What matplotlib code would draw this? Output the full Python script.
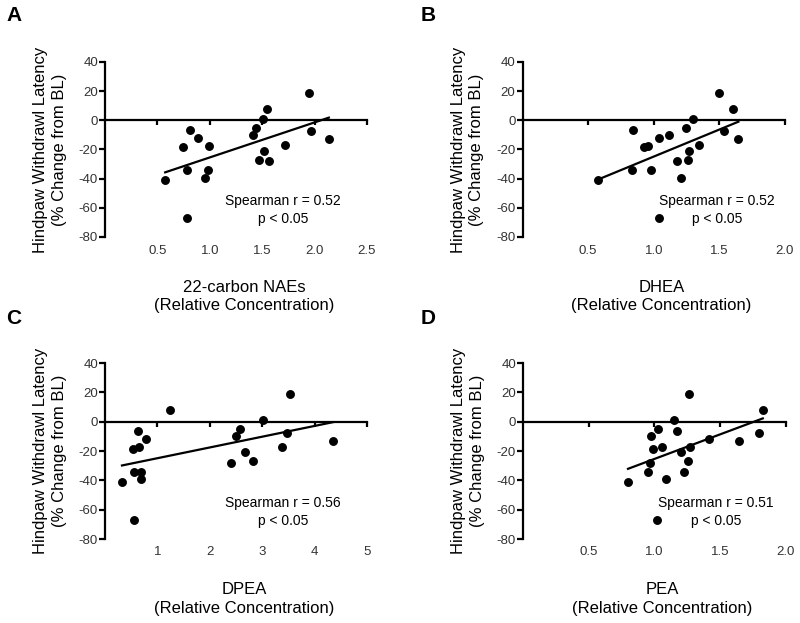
import numpy as np
import matplotlib
matplotlib.use("Agg")
import matplotlib.pyplot as plt

plt.rcParams['font.family'] = ['Liberation Sans', 'DejaVu Sans']
plt.rcParams['axes.unicode_minus'] = False

# Hindpaw withdrawal latency (% change from BL), same animals in all panels
latency = [19, 8, 1, -5, -10, -6.5, -12, -18.6, -17.5, -7.5,
           -13, -17, -21, -27, -28, -34.3, -34.3, -39.3, -41, -67]

x_nae22 = [1.946, 1.546, 1.508, 1.444, 1.413, 0.810, 0.883, 0.746, 0.994, 1.965,
           2.136, 1.717, 1.521, 1.470, 1.565, 0.778, 0.984, 0.955, 0.574, 0.778]
x_dhea = [1.500, 1.604, 1.299, 1.243, 1.118, 0.841, 1.042, 0.927, 0.953, 1.538,
          1.645, 1.342, 1.268, 1.261, 1.179, 0.836, 0.981, 1.205, 0.574, 1.042]
x_dpea = [3.53, 1.24, 3.02, 2.58, 2.50, 0.636, 0.776, 0.54, 0.643, 3.47,
          4.35, 3.38, 2.67, 2.82, 2.40, 0.56, 0.68, 0.68, 0.324, 0.56]
x_pea = [1.265, 1.827, 1.153, 1.031, 0.977, 1.173, 1.415, 0.990, 1.061, 1.796,
         1.649, 1.275, 1.201, 1.260, 0.969, 0.952, 1.224, 1.089, 0.800, 1.020]

panel_letters = ['A', 'B', 'C', 'D']
x_names = ['22-carbon NAEs', 'DHEA', 'DPEA', 'PEA']
x_series = [x_nae22, x_dhea, x_dpea, x_pea]
spearman_r = ['0.52', '0.52', '0.56', '0.51']
x_limits = [2.5, 2.0, 5.0, 2.0]
x_ticks = [[0.5, 1.0, 1.5, 2.0, 2.5], [0.5, 1.0, 1.5, 2.0],
           [1, 2, 3, 4, 5], [0.5, 1.0, 1.5, 2.0]]
x_ticklabels = [['0.5', '1.0', '1.5', '2.0', '2.5'], ['0.5', '1.0', '1.5', '2.0'],
                ['1', '2', '3', '4', '5'], ['0.5', '1.0', '1.5', '2.0']]
y_ticks = [40, 20, 0, -20, -40, -60, -80]

W, H = 800, 623
fig = plt.figure(figsize=(8.0, 6.23), dpi=100)

# axes boxes in pixels: left, right, top, bottom
boxes = [(105, 367, 62, 237), (522.5, 785, 62, 237),
         (105, 367, 363, 539), (523, 785.5, 363, 539)]
letter_pos = [(6, 6), (421, 6), (6, 309), (421, 309)]
stat_x = [0.68, 0.74, 0.68, 0.736]

for i in range(4):
    l, r, t, b = boxes[i]
    ax = fig.add_axes([l / W, 1 - b / H, (r - l) / W, (b - t) / H])
    xs = np.array(x_series[i])
    ys = np.array(latency)
    ax.plot(xs, ys, 'o', color='black', ms=5.4, mec='black', zorder=3)
    k, c = np.polyfit(xs, ys, 1)
    xf = np.array([xs.min(), xs.max()])
    ax.plot(xf, k * xf + c, color='black', lw=1.6, zorder=2)

    ax.set_xlim(0, x_limits[i])
    ax.set_ylim(-80, 40)
    for s in ['top', 'right']:
        ax.spines[s].set_visible(False)
    ax.spines['bottom'].set_position(('data', 0))
    ax.spines['left'].set_linewidth(1.6)
    ax.spines['bottom'].set_linewidth(1.6)
    ax.set_yticks(y_ticks)
    ax.set_yticklabels([str(v) for v in y_ticks])
    ax.set_xticks(x_ticks[i])
    ax.set_xticklabels(x_ticklabels[i])
    ax.tick_params(axis='y', direction='out', length=4, width=1.6,
                   labelsize=9.5, labelcolor='#333333', pad=1)
    ax.tick_params(axis='x', direction='out', length=3.5, width=1.6,
                   labelsize=9.5, labelcolor='#333333', pad=86)
    ax.patch.set_alpha(0)

    ax.text(-0.21, 0.5, 'Hindpaw Withdrawl Latency\n(% Change from BL)',
            transform=ax.transAxes, rotation=90, ha='center', va='center',
            fontsize=12, linespacing=1.3, multialignment='center')
    ax.text(0.53, -0.34, x_names[i] + '\n(Relative Concentration)',
            transform=ax.transAxes, ha='center', va='center',
            fontsize=12, linespacing=1.3, multialignment='center')
    ax.text(stat_x[i], 0.155, 'Spearman r = ' + spearman_r[i] + '\np < 0.05',
            transform=ax.transAxes, ha='center', va='center',
            fontsize=10, linespacing=1.35, multialignment='center')

    lx, ly = letter_pos[i]
    fig.text(lx / W, 1 - ly / H, panel_letters[i], ha='left', va='top',
             fontsize=15, fontweight='bold')

fig.savefig('out.png', dpi=100)
